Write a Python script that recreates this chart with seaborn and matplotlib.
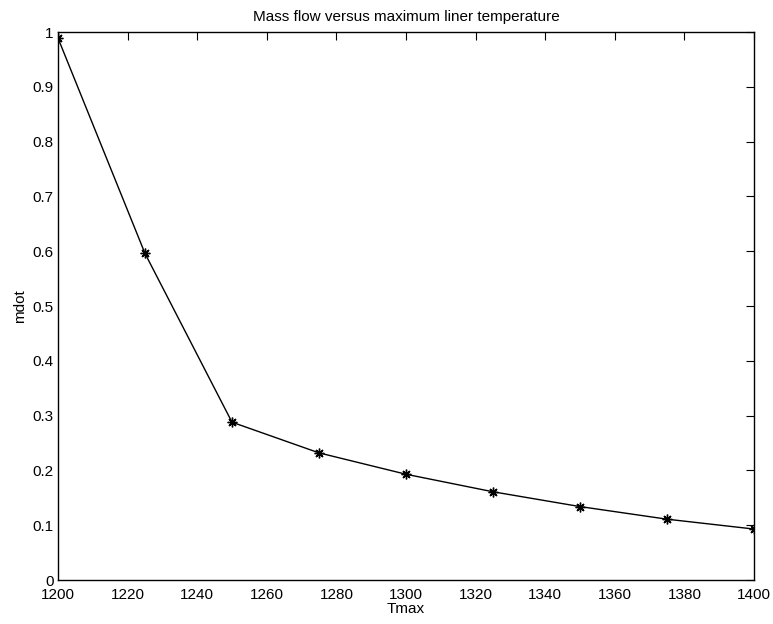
import pandas as pd
import matplotlib.pyplot as plt
import matplotlib.ticker as mticker
import seaborn as sns

tmax = [1200, 1225, 1250, 1275, 1300, 1325, 1350, 1375, 1400]
mdot = [0.989, 0.596, 0.288, 0.232, 0.193, 0.161, 0.134, 0.111, 0.093]

df = pd.DataFrame({"Tmax": tmax, "mdot": mdot})

sns.set_theme(style="white")
plt.rcParams['font.family'] = ['Liberation Sans', 'DejaVu Sans']
plt.rcParams['text.color'] = 'black'
plt.rcParams['axes.labelcolor'] = 'black'

fig = plt.figure(figsize=(7.73, 6.24), dpi=100)
ax = fig.add_axes([0.075, 0.0705, 0.9004, 0.8782])

# matlab-like asterisk marker (8 arms)
sns.lineplot(data=df, x="Tmax", y="mdot", ax=ax, color="black", linewidth=1,
             marker=(8, 2, 0), markersize=7, markeredgecolor="black",
             markerfacecolor="black", markeredgewidth=1)

ax.set_xlim(1200, 1400)
ax.set_ylim(0, 1)
ax.xaxis.set_major_locator(mticker.MultipleLocator(20))
ax.yaxis.set_major_locator(mticker.MultipleLocator(0.1))
ax.yaxis.set_major_formatter(mticker.FuncFormatter(lambda v, p: f"{v:g}"))
ax.tick_params(direction="in", length=6, width=0.8, top=True, right=True,
               labelsize=11, colors="black")
ax.tick_params(axis="x", pad=6)
ax.tick_params(axis="y", pad=3)
for s in ax.spines.values():
    s.set_color("black")
    s.set_linewidth(1)

ax.set_xlabel("Tmax", fontsize=11, labelpad=0)
ax.set_ylabel("mdot", fontsize=11, labelpad=4)
ax.set_title("Mass flow versus maximum liner temperature", fontsize=11, pad=8)

fig.savefig("out.png", dpi=100)
